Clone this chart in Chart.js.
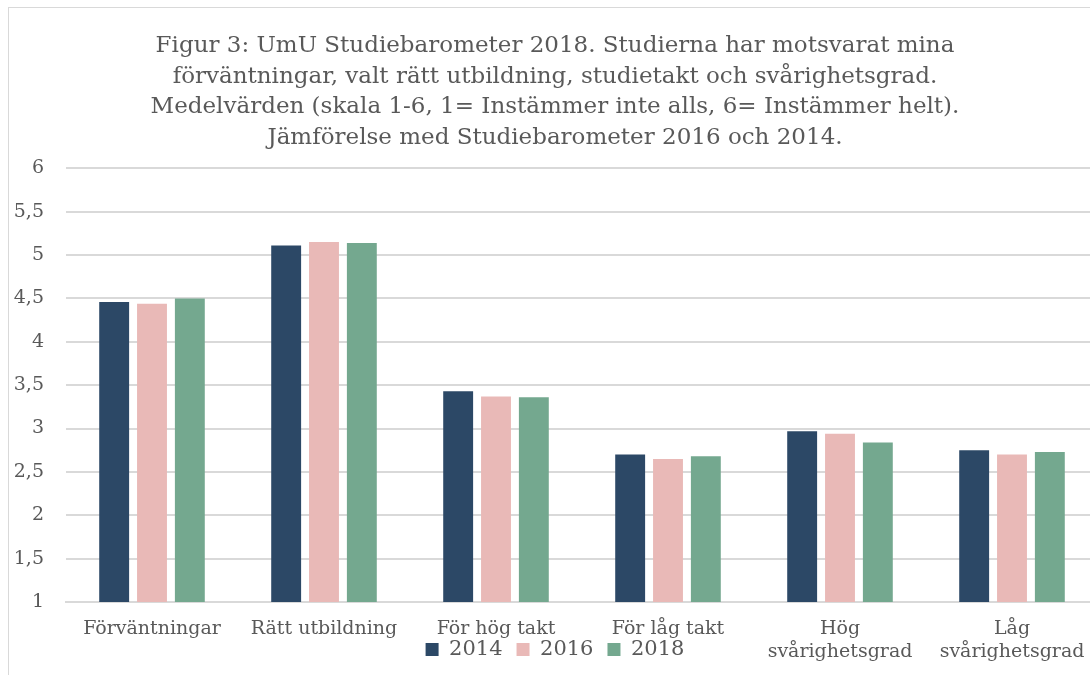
<!DOCTYPE html>
<html>
<head>
<meta charset="utf-8">
<script src="https://cdn.jsdelivr.net/npm/chart.js@4.4.1/dist/chart.umd.min.js"></script>
<style>
  html, body { margin: 0; padding: 0; background: #fff; overflow: hidden; }
  #frame { position: absolute; left: 8px; top: 7px; width: 1110px; height: 700px;
           border-left: 1px solid #d9d9d9; border-top: 1px solid #d9d9d9; }
  #wrap { position: absolute; left: 0; top: 0; width: 1112px; height: 675px; }
</style>
</head>
<body>
<div id="frame"></div>
<div id="wrap"><canvas id="chart"></canvas></div>
<script>
const categories = ['Förväntningar', 'Rätt utbildning', 'För hög takt', 'För låg takt',
  ['Hög', 'svårighetsgrad'], ['Låg', 'svårighetsgrad']];
const years = ['2014', '2016', '2018'];
const values2014 = [4.46, 5.11, 3.43, 2.70, 2.97, 2.75];
const values2016 = [4.44, 5.15, 3.37, 2.65, 2.94, 2.70];
const values2018 = [4.50, 5.14, 3.36, 2.68, 2.84, 2.73];
const colors = ['#2c4866', '#e9b9b7', '#74a88f'];
const titleLines = [
  'Figur 3: UmU Studiebarometer 2018. Studierna har motsvarat mina',
  'förväntningar, valt rätt utbildning, studietakt och svårighetsgrad.',
  'Medelvärden (skala 1-6, 1= Instämmer inte alls, 6= Instämmer helt).',
  'Jämförelse med Studiebarometer 2016 och 2014.'
];

const serif = "'DejaVu Serif', 'Liberation Serif', serif";
const grey = '#595959';

// let the two-line x labels run down past the (shortened) axis box
const labelOverflow = {
  id: 'labelOverflow',
  afterLayout(chart) { chart.scales.x.bottom = chart.height; }
};

const ctx = document.getElementById('chart').getContext('2d');
new Chart(ctx, {
  type: 'bar',
  data: {
    labels: categories,
    datasets: [values2014, values2016, values2018].map((vals, i) => ({
      label: years[i],
      data: vals,
      backgroundColor: colors[i],
      categoryPercentage: 0.66,
      barPercentage: 0.79
    }))
  },
  options: {
    responsive: true,
    maintainAspectRatio: false,
    animation: false,
    layout: { padding: { left: 12, right: 14, top: 31, bottom: 5 } },
    plugins: {
      title: {
        display: true,
        text: titleLines,
        color: grey,
        font: { family: serif, size: 23, weight: 'normal', lineHeight: 1.33 },
        padding: { top: 0, bottom: 15 }
      },
      legend: {
        position: 'bottom',
        labels: {
          color: grey,
          font: { family: serif, size: 21 },
          boxWidth: 13,
          boxHeight: 13,
          padding: 14
        }
      },
      tooltip: { enabled: false }
    },
    scales: {
      x: {
        grid: { display: false, drawTicks: false },
        border: { display: true, color: '#d9d9d9', width: 2 },
        ticks: {
          color: grey,
          font: { family: serif, size: 19, lineHeight: 1.2 },
          maxRotation: 0,
          autoSkip: false,
          padding: 16
        },
        afterFit(scale) { scale.height = 23; }
      },
      y: {
        min: 1,
        max: 6,
        grid: { color: '#d9d9d9', lineWidth: 2, drawTicks: false },
        border: { display: false },
        ticks: {
          stepSize: 0.5,
          color: grey,
          padding: 22,
          font: { family: serif, size: 19 },
          callback: v => String(v).replace('.', ',')
        },
        afterFit(scale) { scale.width = 54; }
      }
    }
  },
  plugins: [labelOverflow]
});
</script>
</body>
</html>
